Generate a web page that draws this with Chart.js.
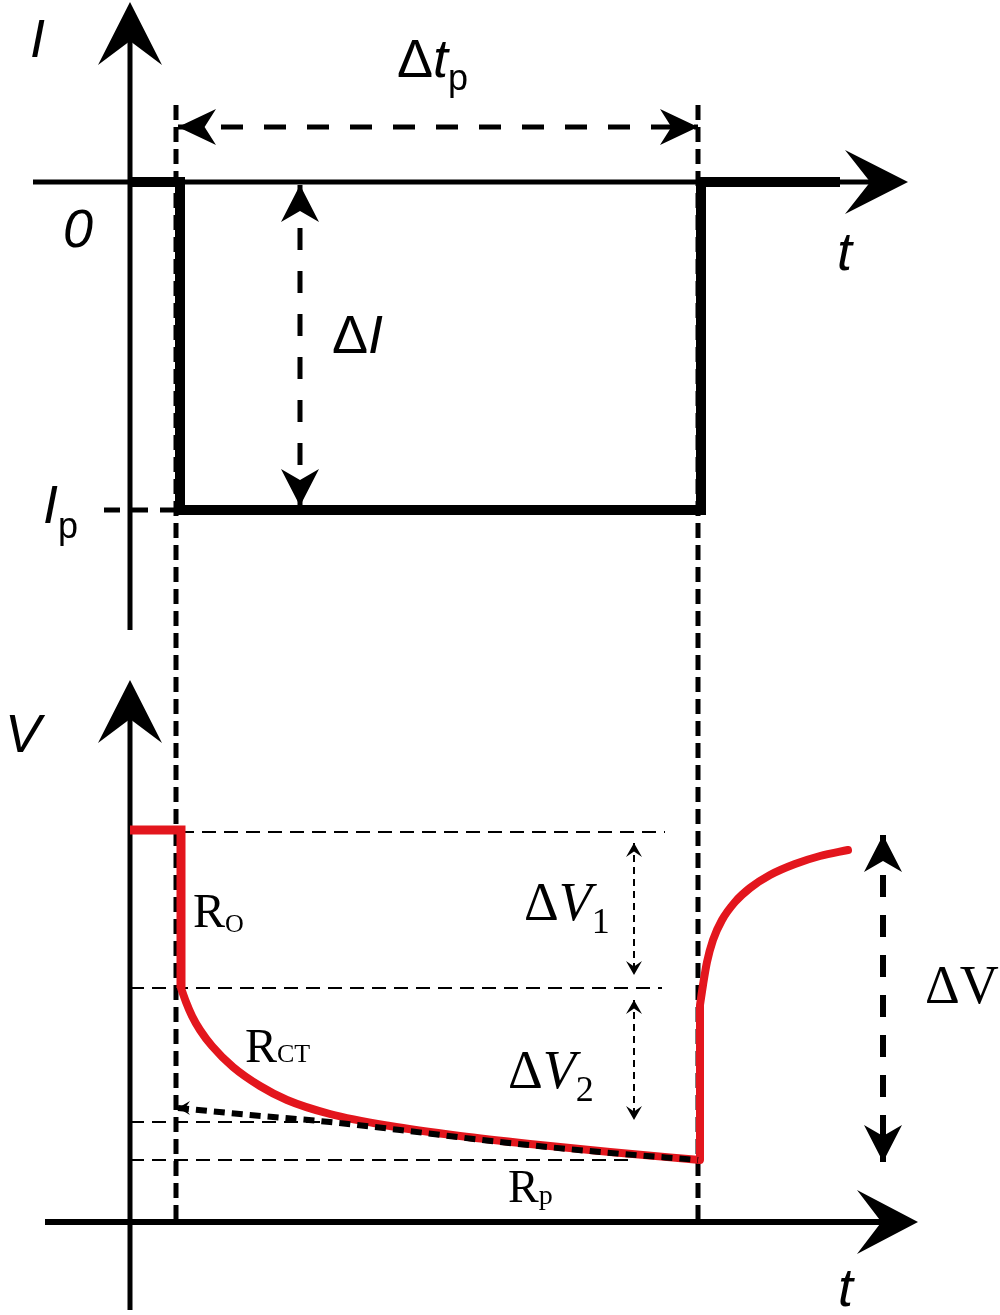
<!DOCTYPE html>
<html>
<head>
<meta charset="utf-8">
<script src="https://cdn.jsdelivr.net/npm/chart.js@4/dist/chart.umd.min.js"></script>
<style>
  html, body { margin: 0; padding: 0; background: #fff; }
</style>
</head>
<body>
<canvas id="pulseChart" width="1000" height="1315"></canvas>
<script>
// ---- values (schematic units) ----
// current pulse, top panel
const pulseT = [0, 0.5, 0.5, 5.71, 5.71, 7.1];
const pulseI = [0, 0, -3.28, -3.28, 0, 0];
const pulseStart = 0.46;   // dashed markers at start / end of pulse
const pulseEnd = 5.68;
const currentIp = -3.28;

// voltage response, bottom panel
const stepT = [0, 0.51, 0.51];
const stepV = [3.92, 3.92, 2.34];
const decayT = [0.51, 0.56, 0.62, 0.7, 0.82, 1.03, 1.3, 1.57, 2.0, 2.6, 3.3, 4.0, 4.8, 5.7];
const decayV = [2.34, 2.2, 2.06, 1.92, 1.76, 1.55, 1.36, 1.22, 1.08, 0.96, 0.86, 0.78, 0.7, 0.62];
const jumpT = [5.7, 5.7];
const jumpV = [0.62, 2.17];
const relaxT = [5.7, 5.73, 5.77, 5.83, 5.92, 6.05, 6.2, 6.4, 6.65, 6.9, 7.18];
const relaxV = [2.17, 2.37, 2.6, 2.82, 3.02, 3.2, 3.34, 3.47, 3.58, 3.66, 3.72];
// polarisation fit (black dashed)
const fitT = [0.48, 1.2, 2.0, 2.7, 3.7, 4.7, 5.68];
const fitV = [1.14, 1.07, 1.0, 0.92, 0.8, 0.7, 0.62];

// thin dashed reference levels
const levelV = [3.9, 2.34, 1.0, 0.62];
const levelFrom = [0.5, 0, 0, 0];
const levelTo = [5.35, 5.32, 2.0, 5.0];

// span arrows
const dtpT = [0.48, 5.68], dtpI = 0.55;
const dIT = 1.7, dIRange = [-0.03, -3.24];
const dV1T = 5.04, dV1Range = [3.79, 2.47];
const dV2T = 5.04, dV2Range = [2.22, 1.02];
const dVT = 7.53, dVRange = [3.87, 0.6];

// scales: 100 px per unit on every axis
const xRange = [-1.3, 8.7];
const iRange = [-11.33, 1.82];
const vRange = [-0.93, 12.22];

const RED = '#e3161d';
const SANS = '"Liberation Sans", Arial, sans-serif';
const SERIF = '"Liberation Serif", "Times New Roman", serif';

function xy(ts, vs) {
  return ts.map((t, i) => ({ x: t, y: vs[i] }));
}

function line(label, data, axis, opts) {
  return Object.assign({
    label: label,
    data: data,
    yAxisID: axis,
    borderColor: '#000',
    borderWidth: 5,
    pointRadius: 0,
    fill: false,
    tension: 0,
    borderCapStyle: 'butt',
    borderJoinStyle: 'miter',
    order: 5
  }, opts || {});
}

const datasets = [
  // top panel
  line('I axis', xy([0, 0], [-4.48, 1.6]), 'yI'),
  line('t axis (I)', xy([-0.97, 7.6], [0, 0]), 'yI'),
  line('pulse', xy(pulseT, pulseI), 'yI', { borderWidth: 10, order: 2 }),
  line('dtp', xy(dtpT, [dtpI, dtpI]), 'yI', { borderDash: [22, 21] }),
  line('dI', xy([dIT, dIT], dIRange), 'yI', { borderDash: [22, 21] }),
  line('Ip', xy([-0.26, pulseStart], [currentIp, currentIp]), 'yI', { borderDash: [16, 12] }),
  // markers across both panels
  line('start', xy([pulseStart, pulseStart], [11.17, 0]), 'yV', { borderDash: [15, 7], order: 3 }),
  line('end', xy([pulseEnd, pulseEnd], [11.17, 0]), 'yV', { borderDash: [15, 7], order: 3 }),
  // bottom panel
  line('V axis', xy([0, 0], [-0.88, 5.2]), 'yV'),
  line('t axis (V)', xy([-0.85, 7.7], [0, 0]), 'yV', { borderWidth: 6 })
];

levelV.forEach((v, i) => {
  datasets.push(line('level ' + i, xy([levelFrom[i], levelTo[i]], [v, v]), 'yV',
    { borderWidth: 1.8, borderDash: [14, 8], order: 6 }));
});

datasets.push(
  line('ohmic', xy(stepT, stepV), 'yV', { borderColor: RED, borderWidth: 9, order: 1 }),
  line('decay', xy(decayT, decayV), 'yV', { borderColor: RED, borderWidth: 8, cubicInterpolationMode: 'monotone', order: 1, borderCapStyle: 'round' }),
  line('jump', xy(jumpT, jumpV), 'yV', { borderColor: RED, borderWidth: 8, order: 1 }),
  line('relax', xy(relaxT, relaxV), 'yV', { borderColor: RED, borderWidth: 8, cubicInterpolationMode: 'monotone', order: 1, borderCapStyle: 'round' }),
  line('fit', xy(fitT, fitV), 'yV', { borderWidth: 6, borderDash: [11, 7], cubicInterpolationMode: 'monotone', order: 0 }),
  line('dV1', xy([dV1T, dV1T], dV1Range), 'yV', { borderWidth: 2, borderDash: [7, 5] }),
  line('dV2', xy([dV2T, dV2T], dV2Range), 'yV', { borderWidth: 2, borderDash: [7, 5] }),
  line('dV', xy([dVT, dVT], dVRange), 'yV', { borderWidth: 6, borderDash: [22, 18] })
);

// arrow heads: [axis, t, value, direction, length, half width, notch]
const heads = [
  ['yI', 0, 1.8, 'up', 63, 32, 0.62],
  ['yI', 7.78, 0, 'right', 63, 32, 0.6],
  ['yI', dtpT[0], dtpI, 'left', 38, 18, 0.7],
  ['yI', dtpT[1], dtpI, 'right', 38, 18, 0.7],
  ['yI', dIT, dIRange[0], 'up', 37, 19, 0.7],
  ['yI', dIT, dIRange[1], 'down', 37, 19, 0.7],
  ['yV', 0, 5.42, 'up', 63, 32, 0.62],
  ['yV', 7.88, 0, 'right', 61, 32, 0.6],
  ['yV', dV1T, dV1Range[0], 'up', 14, 8, 0.6],
  ['yV', dV1T, dV1Range[1], 'down', 14, 8, 0.6],
  ['yV', dV2T, dV2Range[0], 'up', 14, 8, 0.6],
  ['yV', dV2T, dV2Range[1], 'down', 14, 8, 0.6],
  ['yV', dVT, dVRange[0], 'up', 37, 19, 0.7],
  ['yV', dVT, dVRange[1], 'down', 37, 19, 0.7],
  ['yV', fitT[0], fitV[0], 'left', 12, 7, 0.6]
];

// text labels: [axis, t, value(baseline), runs: [text, font, dy]]
const labels = [
  ['yI', -1.0, 1.25, [['I', 'italic 54px ' + SANS, 0]]],
  ['yI', 2.67, 1.05, [['\u0394', '54px ' + SANS, 0], ['t', 'italic 54px ' + SANS, 0], ['p', '36px ' + SANS, 13]]],
  ['yI', -0.67, -0.65, [['0', 'italic 54px ' + SANS, 0]]],
  ['yI', 7.07, -0.88, [['t', 'italic 54px ' + SANS, 0]]],
  ['yI', 2.02, -1.71, [['\u0394', '54px ' + SANS, 0], ['I', 'italic 54px ' + SANS, 0]]],
  ['yI', -0.87, -3.41, [['I', 'italic 54px ' + SANS, 0], ['p', '36px ' + SANS, 15]]],
  ['yV', -1.25, 4.7, [['V', 'italic 54px ' + SANS, 0]]],
  ['yV', 0.63, 2.95, [['R', '48px ' + SERIF, 0], ['O', '26px ' + SERIF, 5]]],
  ['yV', 1.15, 1.6, [['R', '48px ' + SERIF, 0], ['CT', '26px ' + SERIF, 0]]],
  ['yV', 3.94, 3.02, [['\u0394', '54px ' + SERIF, 0], ['V', 'italic 54px ' + SERIF, 0], ['1', '36px ' + SERIF, 13]]],
  ['yV', 3.78, 1.34, [['\u0394', '54px ' + SERIF, 0], ['V', 'italic 54px ' + SERIF, 0], ['2', '36px ' + SERIF, 13]]],
  ['yV', 7.95, 2.19, [['\u0394', '54px ' + SERIF, 0], ['V', '54px ' + SERIF, 0]]],
  ['yV', 3.78, 0.2, [['R', '46px ' + SERIF, 0], ['p', '28px ' + SERIF, 2]]],
  ['yV', 7.08, -0.84, [['t', 'italic 54px ' + SANS, 0]]]
];

const ANGLES = { right: 0, down: Math.PI / 2, left: Math.PI, up: -Math.PI / 2 };

const annotate = {
  id: 'annotate',
  afterDatasetsDraw(chart) {
    const ctx = chart.ctx;
    const sx = chart.scales.x;
    ctx.save();
    ctx.fillStyle = '#000';
    heads.forEach(h => {
      const x = sx.getPixelForValue(h[1]);
      const y = chart.scales[h[0]].getPixelForValue(h[2]);
      const len = h[4], half = h[5];
      ctx.save();
      ctx.translate(x, y);
      ctx.rotate(ANGLES[h[3]]);
      ctx.beginPath();
      ctx.moveTo(0, 0);
      ctx.lineTo(-len, -half);
      ctx.lineTo(-len * h[6], 0);
      ctx.lineTo(-len, half);
      ctx.closePath();
      ctx.fill();
      ctx.restore();
    });
    ctx.textBaseline = 'alphabetic';
    ctx.textAlign = 'left';
    labels.forEach(l => {
      let x = sx.getPixelForValue(l[1]);
      const y = chart.scales[l[0]].getPixelForValue(l[2]);
      l[3].forEach(run => {
        ctx.font = run[1];
        ctx.fillText(run[0], x, y + run[2]);
        x += ctx.measureText(run[0]).width;
      });
    });
    ctx.restore();
  }
};

new Chart(document.getElementById('pulseChart'), {
  type: 'line',
  data: { datasets: datasets },
  options: {
    responsive: false,
    animation: false,
    events: [],
    layout: { padding: 0 },
    plugins: { legend: { display: false }, tooltip: { enabled: false } },
    scales: {
      x: { type: 'linear', min: xRange[0], max: xRange[1], display: false },
      yI: { type: 'linear', position: 'left', min: iRange[0], max: iRange[1], display: false },
      yV: { type: 'linear', position: 'left', min: vRange[0], max: vRange[1], display: false }
    }
  },
  plugins: [annotate]
});
</script>
</body>
</html>
